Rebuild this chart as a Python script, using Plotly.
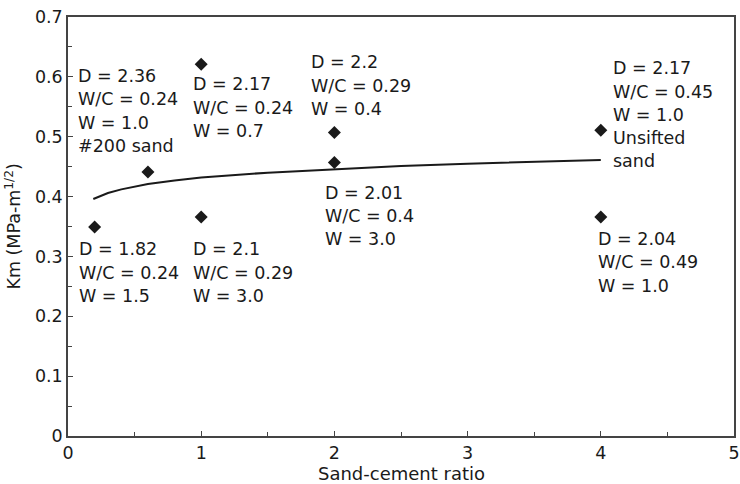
import plotly.graph_objects as go

# Data points (sand-cement ratio, Km)
pt_x = [0.2, 0.6, 1.0, 1.0, 2.0, 2.0, 4.0, 4.0]
pt_y = [0.349, 0.441, 0.621, 0.366, 0.507, 0.457, 0.511, 0.366]

# Trend curve
curve_x = [0.19, 0.3, 0.4, 0.6, 0.8, 1.0, 1.5, 2.0, 2.5, 3.0, 3.5, 4.0]
curve_y = [0.396, 0.406, 0.412, 0.421, 0.427, 0.432, 0.440, 0.446, 0.451, 0.455, 0.458, 0.461]

# Label blocks
labels = [
    ["D = 2.36", "W/C = 0.24", "W = 1.0", "#200 sand"],
    ["D = 2.17", "W/C = 0.24", "W = 0.7"],
    ["D = 2.2", "W/C = 0.29", "W = 0.4"],
    ["D = 2.17", "W/C = 0.45", "W = 1.0", "Unsifted", "sand"],
    ["D = 2.01", "W/C = 0.4", "W = 3.0"],
    ["D = 2.04", "W/C = 0.49", "W = 1.0"],
    ["D = 1.82", "W/C = 0.24", "W = 1.5"],
    ["D = 2.1", "W/C = 0.29", "W = 3.0"],
]
label_x = [0.073, 0.94, 1.828, 4.091, 1.928, 3.978, 0.0825, 0.94]
label_y = [0.6015, 0.5876, 0.6244, 0.6144, 0.4064, 0.329, 0.312, 0.312]

x_ticks = [0, 1, 2, 3, 4, 5]
y_ticks = [0, 0.1, 0.2, 0.3, 0.4, 0.5, 0.6, 0.7]
y_tick_text = ["0", "0.1", "0.2", "0.3", "0.4", "0.5", "0.6", "0.7"]

FONT = "DejaVu Sans"
INK = "#1a1a1a"

fig = go.Figure()
fig.add_trace(go.Scatter(x=curve_x, y=curve_y, mode="lines",
                         line=dict(color=INK, width=2), showlegend=False))
fig.add_trace(go.Scatter(x=pt_x, y=pt_y, mode="markers",
                         marker=dict(symbol="diamond", size=10, color=INK),
                         showlegend=False))

annotations = []
for block, bx, by in zip(labels, label_x, label_y):
    for i, line in enumerate(block):
        annotations.append(dict(x=bx, y=by, xref="x", yref="y", text=line,
                                showarrow=False, xanchor="left", yanchor="middle",
                                yshift=-i * 23.3, xshift=-2,
                                font=dict(family=FONT, size=17.5, color=INK)))

# axis titles as paper annotations for exact placement
annotations.append(dict(x=0.5, y=-0.09, xref="paper", yref="paper", yanchor="middle",
                        xanchor="center", text="Sand-cement ratio", showarrow=False,
                        font=dict(family=FONT, size=18, color=INK)))
annotations.append(dict(x=-0.084, y=0.5, xref="paper", yref="paper", yanchor="middle",
                        xanchor="center", text="Km (MPa-m<sup>1/2</sup>)", showarrow=False,
                        textangle=-90, font=dict(family=FONT, size=17.5, color=INK)))

fig.update_layout(
    width=740, height=484,
    margin=dict(l=68, r=6, t=17, b=48),
    plot_bgcolor="white", paper_bgcolor="white",
    font=dict(family=FONT, size=17.5, color=INK),
    annotations=annotations,
    xaxis=dict(range=[0, 5], tickvals=x_ticks, ticktext=[str(v) for v in x_ticks],
               ticks="inside", ticklen=5, tickwidth=1.2, tickcolor="#444",
               showline=True, linecolor="#444", linewidth=1.5, mirror=True,
               showgrid=False, zeroline=False, automargin=False,
               minor=dict(dtick=0.5, ticks="inside", ticklen=4, tickcolor="#444", showgrid=False),
               tickfont=dict(size=17.5)),
    yaxis=dict(range=[0, 0.7], tickvals=y_ticks, ticktext=y_tick_text,
               ticks="inside", ticklen=5, tickwidth=1.2, tickcolor="#444",
               showline=True, linecolor="#444", linewidth=1.5, mirror=True,
               showgrid=False, zeroline=False, automargin=False,
               minor=dict(dtick=0.05, ticks="inside", ticklen=4, tickcolor="#444", showgrid=False),
               tickfont=dict(size=17.5)),
)

fig.write_html("out.html", config={"displayModeBar": False},
               post_script="document.body.style.margin='0';")
